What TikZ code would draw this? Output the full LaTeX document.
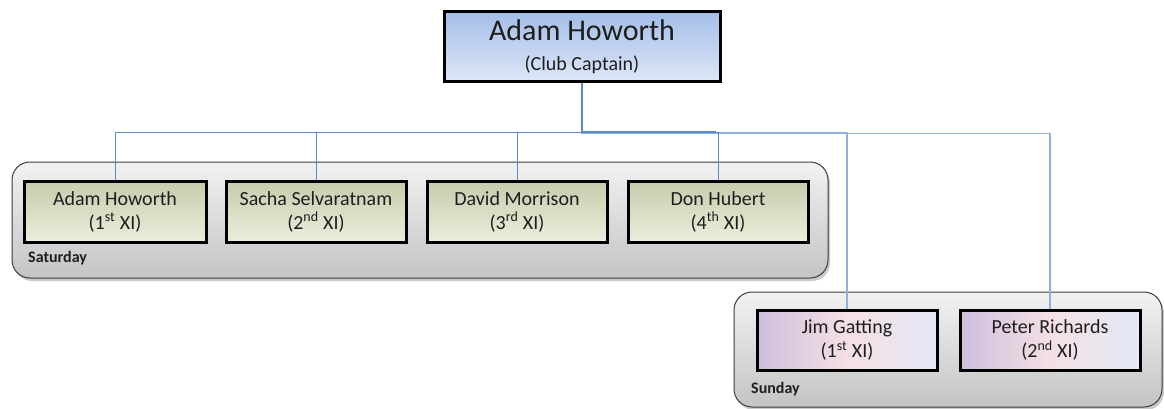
\documentclass[tikz,border=0pt]{standalone}
\usepackage{fontspec}
\setmainfont{Carlito}
\usetikzlibrary{shadows}
\definecolor{txt}{HTML}{1E1E1E}
\definecolor{linkblue}{HTML}{5A8AC6}
\definecolor{linklight}{HTML}{8FB1DC}
\begin{document}
\begin{tikzpicture}[x=1pt,y=-1pt,
  every node/.style={text=txt, align=center, inner sep=0pt},
  person/.style={draw=black, line width=3pt, minimum width=180pt, minimum height=60pt,
    font=\fontsize{20}{24}\selectfont},
  capt/.style={person, minimum width=276pt, minimum height=70pt,
    top color={rgb,255:red,164;green,190;blue,232}, bottom color={rgb,255:red,222;green,231;blue,247}},
  satp/.style={person, minimum height=61pt,
    top color={rgb,255:red,200;green,203;blue,172}, bottom color={rgb,255:red,236;green,238;blue,220}},
  sunp/.style={person,
    left color={rgb,255:red,206;green,190;blue,220}, right color={rgb,255:red,228;green,232;blue,246},
    middle color={rgb,255:red,244;green,224;blue,228}},
  group/.style={draw={rgb,255:red,60;green,60;blue,60}, line width=1pt, rounded corners=18pt,
    top color={rgb,255:red,242;green,242;blue,242}, bottom color={rgb,255:red,196;green,196;blue,196},
    drop shadow={shadow xshift=2pt, shadow yshift=-3pt, opacity=0.35, fill=black!60}},
  trunk/.style={draw=linkblue, line width=2pt},
  link/.style={draw=linkblue, line width=1pt},
  linksun/.style={draw=linklight, line width=1.6pt},
  daylabel/.style={font=\bfseries\fontsize{16}{18}\selectfont, anchor=west}
]
\useasboundingbox (0,0) rectangle (1164,409);

% group panels
\path[group] (12,162) rectangle (828,278);
\path[group] (734,292) rectangle (1162,407);

% captain
\node[capt] (cap) at (582,47) {{\fontsize{30}{30}\selectfont Adam Howorth}\\[6pt]{\fontsize{20}{22}\selectfont (Club Captain)}};

% saturday sides
\node[satp, minimum width=182pt] (s1) at (115,211.5) {Adam Howorth\\(1\textsuperscript{st} XI)};
\node[satp] (s2) at (316,211.5) {Sacha Selvaratnam\\(2\textsuperscript{nd} XI)};
\node[satp] (s3) at (517,211.5) {David Morrison\\(3\textsuperscript{rd} XI)};
\node[satp] (s4) at (718,211.5) {Don Hubert\\(4\textsuperscript{th} XI)};

% sunday sides
\node[sunp] (u1) at (847,340) {Jim Gatting\\(1\textsuperscript{st} XI)};
\node[sunp] (u2) at (1050,340) {Peter Richards\\(2\textsuperscript{nd} XI)};

\node[daylabel] (satlbl) at (28,258) {Saturday};
\node[daylabel] (sunlbl) at (751,389) {Sunday};

% connectors
\draw[linksun] (cap.south) -- ++(0,50) -| (u2.north);
\draw[linksun] (cap.south) -- ++(0,49) -| (u1.north);
\foreach \n in {s1,s2,s3,s4}
  \draw[link] (cap.south) -- ++(0,49) -| (\n.north);
\draw[trunk] (cap.south) -- ++(0,49) -- ++(134,0);
\end{tikzpicture}
\end{document}
